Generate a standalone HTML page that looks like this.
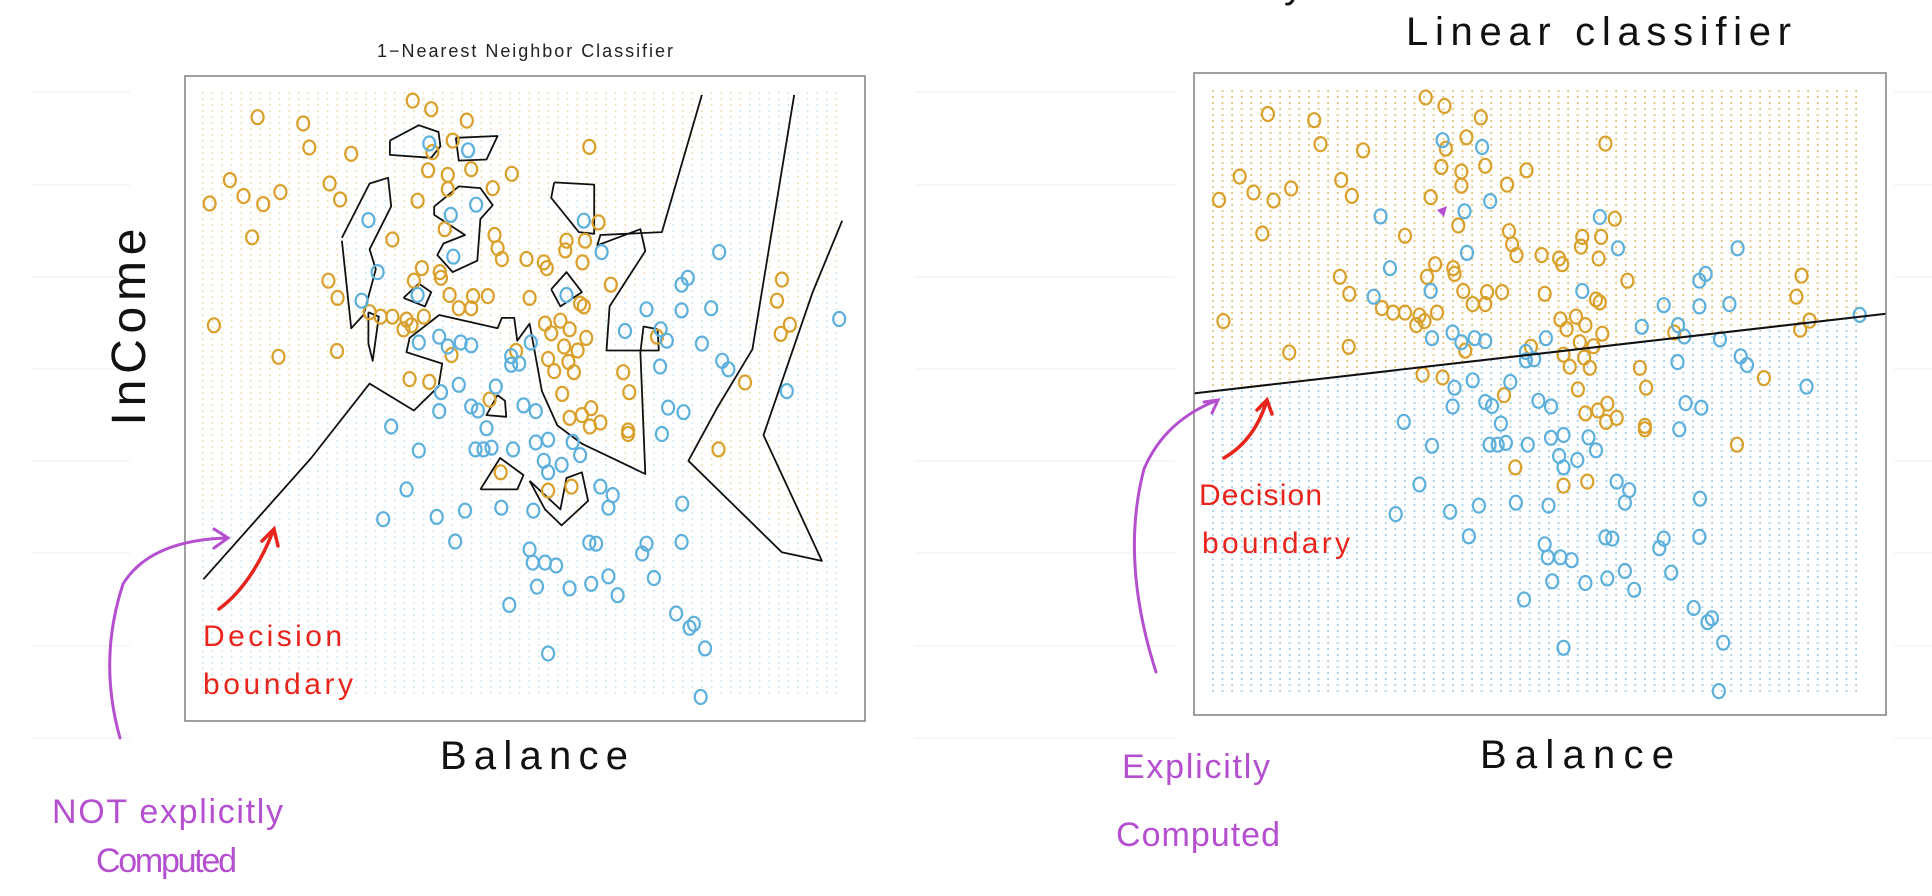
<!DOCTYPE html>
<html><head><meta charset="utf-8">
<style>
html,body{margin:0;padding:0;background:#fff;}
svg{display:block;}
.hw{font-family:"Liberation Sans","DejaVu Sans",sans-serif;}
</style></head>
<body>
<svg id="root" width="1932" height="896" viewBox="0 0 1932 896" xmlns="http://www.w3.org/2000/svg">
  <g id="bglines"></g>
  <text class="hw" x="20" y="-3" font-size="40" fill="#111" textLength="1330">Same    the      class      from     these    ways</text>

  <!-- Left plot -->
  <text x="525" y="57" font-family="Liberation Sans, sans-serif" font-size="18" text-anchor="middle" fill="#222" textLength="296">1−Nearest Neighbor Classifier</text>
  <g id="leftGrid"></g>
  <g id="leftBoundary"></g>
  <g id="leftPts"></g>
  <rect x="185" y="76" width="680" height="645" fill="none" stroke="#888" stroke-width="1.6"/>

  <!-- Right plot -->
  <text class="hw" x="1406" y="45" font-size="40" fill="#111" textLength="385">Linear  classifier</text>
  <g id="rightGrid"></g>
  <g id="rightPts"></g>
  <g id="rightLine"></g>
  <rect x="1194" y="73" width="692" height="642" fill="none" stroke="#888" stroke-width="1.6"/>

  <!-- Annotations left -->
  <text class="hw" transform="translate(145,327) rotate(-90)" font-size="48" text-anchor="middle" fill="#111" textLength="197">InCome</text>
  <text class="hw" x="440" y="769" font-size="40" fill="#111" textLength="188">Balance</text>
  <text class="hw" x="203" y="646" font-size="30" fill="#e8251c" textLength="139">Decision</text>
  <text class="hw" x="203" y="694" font-size="30" fill="#e8251c" textLength="150">boundary</text>
  <path d="M219,609 Q252,585 274,529 M262,541 L274,529 L278,546" fill="none" stroke="#e8251c" stroke-width="3.5" stroke-linecap="round"/>
  <path d="M120,738 Q98,660 123,584 Q150,540 228,538 M214,529 L228,538 L214,548" fill="none" stroke="#b44fd0" stroke-width="3" stroke-linecap="round"/>
  <text class="hw" x="52" y="823" font-size="34" fill="#b44fd0" textLength="231">NOT  explicitly</text>
  <text class="hw" x="96" y="872" font-size="34" fill="#b44fd0" textLength="141">Computed</text>

  <!-- Annotations right -->
  <text class="hw" x="1480" y="768" font-size="40" fill="#111" textLength="194">Balance</text>
  <text class="hw" x="1199" y="505" font-size="30" fill="#e8251c" textLength="123">Decision</text>
  <text class="hw" x="1202" y="553" font-size="30" fill="#e8251c" textLength="148">boundary</text>
  <path d="M1224,458 Q1255,440 1267,400 M1257,410 L1267,400 L1272,414" fill="none" stroke="#e8251c" stroke-width="3.5" stroke-linecap="round"/>
  <path d="M1156,672 Q1120,560 1144,469 Q1165,420 1218,400 M1204,402 L1218,400 L1212,413" fill="none" stroke="#b44fd0" stroke-width="3" stroke-linecap="round"/>
  <text class="hw" x="1122" y="778" font-size="34" fill="#b44fd0" textLength="148">Explicitly</text>
  <text class="hw" x="1116" y="846" font-size="34" fill="#b44fd0" textLength="164">Computed</text>
  <path d="M1437,210 L1447,206 L1444,217 Z" fill="#b44fd0"/>
</svg>
<script>
// Data units: balance 0..1105, income 0..1128
const orangeBalance=[370,400,458,118,192,202,270,657,435,402,395,427,465,531,500,427,378,73,95,127,155,40,235,252,109,422,337,503,508,515,555,583,588,620,618,650,672,646,385,414,416,372,233,248,430,468,492,445,465,560,642,648,692,300,318,337,360,388,355,368,585,610,595,625,652,616,638,590,623,600,632,712,722,613,660,645,625,675,658,720,720,433,538,365,397,47,152,247,495,513,590,628,970,962,983,968,910,867,767];
const orangeIncome=[1085,1070,1050,1056,1045,1003,992,1004,1015,995,963,955,965,957,932,930,910,946,918,904,925,905,940,912,846,860,842,850,827,808,808,802,792,840,823,840,872,802,792,785,775,770,770,740,745,743,743,722,722,740,730,725,763,715,707,707,702,707,685,692,695,700,678,685,670,655,648,633,628,612,610,610,575,572,547,535,530,522,515,508,502,640,647,598,593,692,637,647,562,435,403,410,772,735,693,677,592,475,672];
const blueBalance=[397,460,298,473,432,648,677,436,313,868,620,378,287,817,807,750,807,855,715,773,783,840,873,883,772,1063,978,380,413,448,465,427,562,530,543,530,416,445,505,413,465,476,550,570,490,472,485,498,533,570,590,630,642,583,590,612,675,695,688,335,380,360,322,409,455,514,566,439,560,565,585,603,657,668,750,743,807,808,775,785,810,572,625,660,688,703,762,527,798,820,827,845,590,838];
const blueIncome=[1010,998,876,903,885,875,820,812,785,820,745,745,735,775,763,720,718,722,682,685,665,660,630,615,620,703,577,662,672,662,657,655,662,638,625,623,575,588,585,542,550,543,552,542,512,475,475,478,475,487,492,488,465,455,435,448,410,395,373,515,473,405,353,357,368,373,368,314,300,277,277,272,312,310,310,293,313,380,502,548,540,235,232,240,253,220,250,203,188,163,170,127,118,42];
const lineIntercept=565, lineSlope=0.1267;
const U=1105, V=1128;
// 1-NN boundary traces (source-pixel pairs converted to data units below)
const boundaryTraces=[
 [[330,1012],[505,800],[600,670],[672,717],[712,675],[718,635],[660,615],[665,590],[713,550],[808,573],[815,555],[835,555],[840,595],[860,565],[880,683],[905,743],[945,775],[1048,828],[1040,615],[1045,570],[1068,575],[1070,612],[985,612],[990,535],[1048,438],[1040,400],[970,428],[975,410],[1075,405],[1140,165]],
 [[1290,165],[1222,610],[1165,712],[1118,805],[1270,965],[1335,980],[1240,760],[1320,510],[1368,385]],
 [[633,245],[680,218],[712,230],[715,255],[700,275],[633,270],[633,245]],
 [[740,240],[808,237],[790,278],[745,280],[740,240]],
 [[900,318],[965,322],[965,408],[940,405],[895,345],[900,318]],
 [[555,415],[600,320],[630,310],[635,360],[600,435],[610,470],[590,550],[570,573],[555,420]],
 [[705,360],[745,325],[780,328],[800,358],[780,382],[775,455],[735,475],[710,445],[720,425],[755,410],[705,375],[705,360]],
 [[895,505],[920,475],[945,510],[910,535],[895,505]],
 [[655,520],[680,495],[700,510],[690,535],[655,520]],
 [[598,545],[615,553],[605,630],[598,600],[598,545]],
 [[808,690],[820,700],[822,728],[790,725],[808,690]],
 [[780,855],[812,800],[850,830],[840,855],[780,855]],
 [[860,840],[910,890],[920,835],[945,825],[955,875],[912,918],[885,890],[860,840]]
];
const NS='http://www.w3.org/2000/svg';
function mk(tag,attrs,parent){const e=document.createElementNS(NS,tag);for(const k in attrs)e.setAttribute(k,attrs[k]);parent.appendChild(e);return e;}
const L={x0:185,y0:721,w:680,h:645}, R={x0:1194,y0:715,w:692,h:642};
const sx=(P,u)=>P.x0+u/U*P.w, sy=(P,v)=>P.y0-v/V*P.h;
const ux=(P,x)=>(x-P.x0)/P.w*U, vy=(P,y)=>(P.y0-y)/P.h*V;
const OR='#d9a02b', BL='#5eb0dc';

const bg=document.getElementById('bglines');
[92,185,277,369,461,553,646,738].forEach(y=>{
  [[32,130],[914,1175],[1894,1932]].forEach(([a,b])=>{
    const l=mk('line',{x1:a,x2:b,y1:y,y2:y,stroke:'#eeeeee','stroke-width':1},bg);
    
    
  });
});

function nnClass(u,v){let best=1e18,c=0;
  for(let i=0;i<orangeBalance.length;i++){const d=(orangeBalance[i]-u)**2+(orangeIncome[i]-v)**2;if(d<best){best=d;c=0;}}
  for(let i=0;i<blueBalance.length;i++){const d=(blueBalance[i]-u)**2+(blueIncome[i]-v)**2;if(d<best){best=d;c=1;}}
  return c;}
let lg=document.getElementById('leftGrid'), lo='', lb='';
for(let x=202;x<=844;x+=9.6){for(let y=93;y<=697;y+=6){
  const c=nnClass(ux(L,x),vy(L,y));const s=`M${x.toFixed(1)},${y.toFixed(1)}h1.6`;
  if(c===0)lo+=s;else lb+=s;}}
let p1=mk('path',{d:lo,stroke:'#ecd9a6','stroke-width':1.6},lg);


let p2=mk('path',{d:lb,stroke:'#c5e2f0','stroke-width':1.6},lg);



let rg=document.getElementById('rightGrid'), ro='', rb='';
for(let x=1212;x<=1864;x+=9.6){for(let y=91;y<=693;y+=6){
  const u=ux(R,x), v=vy(R,y);const s=`M${x.toFixed(1)},${y.toFixed(1)}h1.8`;
  if(v>lineIntercept+lineSlope*u)ro+=s;else rb+=s;}}
let p3=mk('path',{d:ro,stroke:'#e2bf6c','stroke-width':1.8},rg);


let p4=mk('path',{d:rb,stroke:'#9ccbe5','stroke-width':1.8},rg);



const lbnd=document.getElementById('leftBoundary');
boundaryTraces.forEach(tr=>{
  const d=tr.map((p,i)=>(i?'L':'M')+sx(L,p[0]-300).toFixed(1)+','+sy(L,1260-p[1]).toFixed(1)).join('');
  const e=mk('path',{d:d,fill:'none',stroke:'#111','stroke-width':1.8,'stroke-linejoin':'round'},lbnd);
  
  
});

function drawPts(P,g,xs,ys,col,name){
  for(let i=0;i<xs.length;i++){
    const e=mk('ellipse',{cx:sx(P,xs[i]).toFixed(1),cy:sy(P,ys[i]).toFixed(1),rx:6,ry:7,fill:'none',stroke:col,'stroke-width':2.2},g);
    
    
  }
}
const lp=document.getElementById('leftPts'), rp=document.getElementById('rightPts');
drawPts(L,lp,orangeBalance,orangeIncome,OR,'orange-point');
drawPts(L,lp,blueBalance,blueIncome,BL,'blue-point');
drawPts(R,rp,orangeBalance,orangeIncome,OR,'orange-point');
drawPts(R,rp,blueBalance,blueIncome,BL,'blue-point');

const rl=document.getElementById('rightLine');
const ln=mk('line',{x1:sx(R,0),y1:sy(R,lineIntercept),x2:sx(R,U),y2:sy(R,lineIntercept+lineSlope*U),stroke:'#111','stroke-width':2},rl);


</script>
</body></html>
